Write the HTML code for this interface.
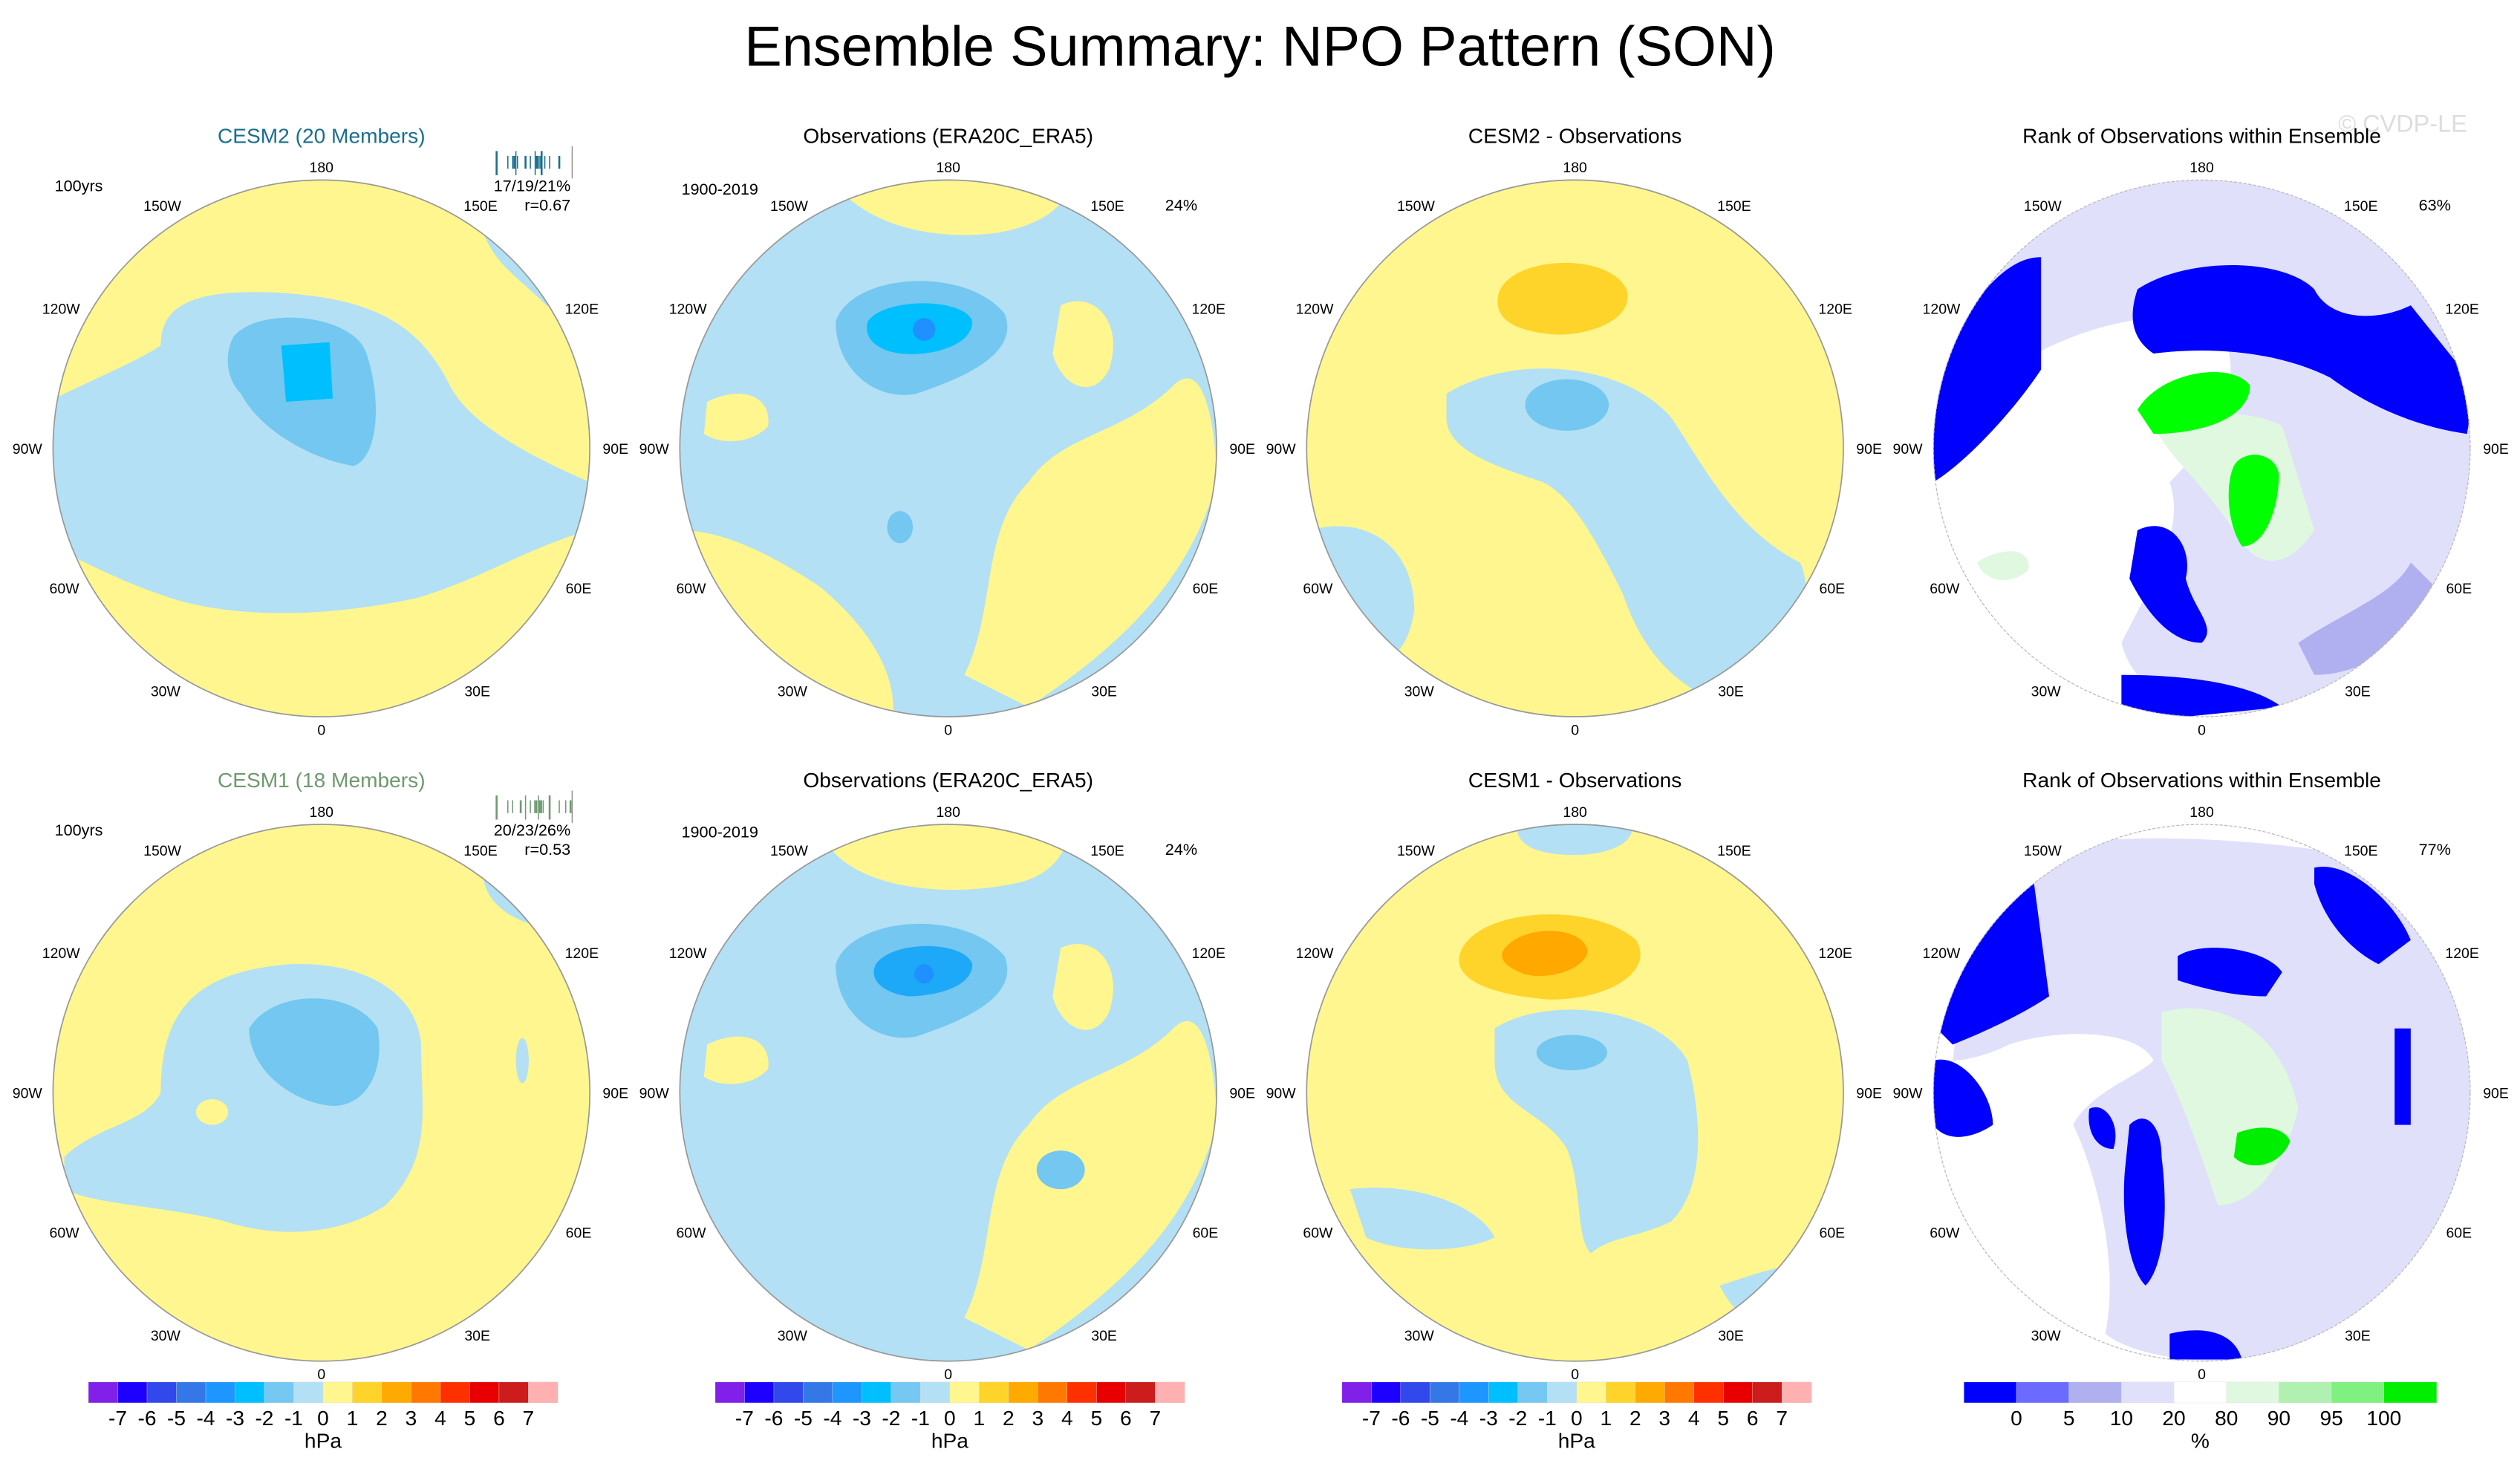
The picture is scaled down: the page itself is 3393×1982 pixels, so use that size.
<!DOCTYPE html>
<html><head><meta charset="utf-8"><style>
html,body{margin:0;padding:0;background:#fff}
svg{display:block}
text{font-family:"Liberation Sans",sans-serif}
</style></head><body>
<svg id="fig" width="3393" height="1982" viewBox="0 0 1568 916" preserveAspectRatio="none" xmlns="http://www.w3.org/2000/svg">
<defs>
<clipPath id="c1"><circle cx="200" cy="279" r="167"/></clipPath>
<clipPath id="c2"><circle cx="590" cy="279" r="167"/></clipPath>
<clipPath id="c3"><circle cx="980" cy="279" r="167"/></clipPath>
<clipPath id="c4"><circle cx="1370" cy="279" r="167"/></clipPath>
<clipPath id="c5"><circle cx="200" cy="680" r="167"/></clipPath>
<clipPath id="c6"><circle cx="590" cy="680" r="167"/></clipPath>
<clipPath id="c7"><circle cx="980" cy="680" r="167"/></clipPath>
<clipPath id="c8"><circle cx="1370" cy="680" r="167"/></clipPath>
</defs>
<text x="784" y="41" font-size="35" text-anchor="middle">Ensemble Summary: NPO Pattern (SON)</text>
<text x="1495" y="82" font-size="15" fill="#ddd" text-anchor="middle">© CVDP-LE</text>

<!-- Panel 1 -->
<g clip-path="url(#c1)">
<rect x="30" y="110" width="340" height="340" fill="#fff68f"/>
<path d="M30,250 C60,235 85,225 100,215 C100,190 120,180 170,182 C230,185 260,200 280,240 C290,260 320,280 367,300 L367,330 C330,340 300,360 260,372 C200,385 140,385 100,370 C70,360 45,345 30,340Z" fill="#b3e0f4"/>
<path d="M340,190 C320,170 300,160 298,130 L350,130 L370,200Z" fill="#b3e0f4"/>
<path d="M145,210 C160,190 220,195 228,220 C238,250 235,285 220,290 C190,285 160,265 150,245 C140,235 140,220 145,210Z" fill="#73c7f0"/>
<path d="M175,215 L205,213 L207,248 L178,250Z" fill="#00bfff"/>
</g>
<circle cx="200" cy="279" r="167" fill="none" stroke="#999" stroke-width="0.8"/>

<!-- Panel 2 -->
<g clip-path="url(#c2)">
<rect x="420" y="110" width="340" height="340" fill="#b3e0f4"/>
<path d="M520,115 C540,140 580,150 620,145 C650,140 670,125 660,110Z" fill="#fff68f"/>
<path d="M423,330 C450,330 480,345 510,365 C540,390 560,420 555,450 L420,450Z" fill="#fff68f"/>
<path d="M440,250 C460,240 480,245 478,265 C470,275 450,278 438,270Z" fill="#fff68f"/>
<path d="M600,420 C620,380 610,330 640,300 C660,270 700,270 730,240 C750,220 757,270 757,300 C740,360 700,400 640,440Z" fill="#fff68f"/>
<path d="M660,190 C680,180 700,200 690,230 C680,250 660,240 655,220Z" fill="#fff68f"/>
<path d="M520,200 C530,170 600,165 625,195 C635,220 600,235 570,245 C545,250 520,230 520,200Z" fill="#73c7f0"/>
<path d="M540,200 C550,185 600,185 605,200 C605,215 580,222 560,220 C545,218 537,210 540,200Z" fill="#00bfff"/>
<circle cx="575" cy="205" r="7" fill="#1e90ff"/>
<ellipse cx="560" cy="328" rx="8" ry="10" fill="#73c7f0"/>
</g>
<circle cx="590" cy="279" r="167" fill="none" stroke="#999" stroke-width="0.8"/>

<!-- Panel 3 -->
<g clip-path="url(#c3)">
<rect x="810" y="110" width="340" height="340" fill="#fff68f"/>
<path d="M900,245 C940,220 1010,225 1040,260 C1060,290 1080,330 1120,350 C1130,370 1120,420 1080,440 C1040,430 1020,400 1010,370 C995,340 980,310 960,300 C930,290 900,280 900,260Z" fill="#b3e0f4"/>
<path d="M815,330 C850,320 880,340 880,380 C875,410 860,420 835,400Z" fill="#b3e0f4"/>
<path d="M932,185 C935,160 1000,155 1012,180 C1018,200 985,210 965,208 C945,206 930,200 932,185Z" fill="#ffd42a"/>
<ellipse cx="975" cy="252" rx="26" ry="16" fill="#73c7f0"/>
</g>
<circle cx="980" cy="279" r="167" fill="none" stroke="#999" stroke-width="0.8"/>

<!-- Panel 4 -->
<g clip-path="url(#c4)">
<rect x="1200" y="110" width="340" height="340" fill="#fff"/>
<path d="M1200,110 L1540,110 L1540,330 C1520,400 1470,430 1420,440 C1380,450 1330,440 1320,400 C1340,360 1360,330 1350,300 C1380,270 1400,240 1380,200 C1330,190 1280,210 1250,230 L1200,230Z" fill="#e0e0fb"/>
<path d="M1203,230 C1230,180 1250,160 1270,160 L1270,230 C1250,260 1220,290 1203,300Z" fill="#0000ff"/>
<path d="M1330,180 C1360,160 1420,160 1440,180 C1450,200 1480,200 1500,190 L1540,240 L1535,270 C1500,265 1470,250 1450,235 C1420,220 1380,215 1340,220 C1325,210 1325,195 1330,180Z" fill="#0000ff"/>
<path d="M1330,330 C1350,320 1365,340 1360,360 C1365,380 1380,390 1370,400 C1350,400 1335,380 1325,360Z" fill="#0000ff"/>
<path d="M1320,420 C1360,420 1400,425 1420,440 L1320,450Z" fill="#0000ff"/>
<path d="M1340,265 C1370,255 1400,255 1420,265 L1440,330 C1420,360 1400,350 1390,330 C1370,300 1350,285 1340,265Z" fill="#e0f8e0"/>
<path d="M1330,255 C1345,230 1390,225 1400,240 C1400,260 1370,270 1340,270Z" fill="#00ff00"/>
<path d="M1390,290 C1395,280 1415,280 1418,295 C1418,315 1410,340 1395,340 C1385,325 1385,300 1390,290Z" fill="#00ff00"/>
<path d="M1230,350 C1245,340 1265,340 1262,355 C1250,365 1235,362 1230,350Z" fill="#e0f8e0"/>
<path d="M1430,400 C1460,380 1490,370 1500,350 L1520,370 C1500,400 1470,420 1440,420Z" fill="#b0b0f0"/>
</g>
<circle cx="1370" cy="279" r="167" fill="none" stroke="#bbb" stroke-width="0.6" stroke-dasharray="2,1"/>

<!-- Panel 5 -->
<g clip-path="url(#c5)">
<rect x="30" y="510" width="340" height="340" fill="#fff68f"/>
<path d="M40,720 C60,700 90,700 100,680 C100,630 120,605 180,600 C230,598 260,620 262,650 C262,690 270,720 240,750 C210,770 170,770 140,760 C100,750 60,750 40,740Z" fill="#b3e0f4"/>
<path d="M300,540 C300,560 315,570 330,575 L330,540Z" fill="#b3e0f4"/>
<path d="M155,640 C170,615 220,615 235,640 C240,670 225,690 205,688 C180,685 155,665 155,640Z" fill="#73c7f0"/>
<ellipse cx="132" cy="692" rx="10" ry="8" fill="#fff68f"/>
<ellipse cx="325" cy="660" rx="4" ry="14" fill="#b3e0f4"/>
</g>
<circle cx="200" cy="680" r="167" fill="none" stroke="#999" stroke-width="0.8"/>

<!-- Panel 6 -->
<g clip-path="url(#c6)">
<rect x="420" y="510" width="340" height="340" fill="#b3e0f4"/>
<path d="M510,515 C520,550 580,560 630,550 C660,545 670,520 660,510Z" fill="#fff68f"/>
<path d="M440,650 C460,640 480,645 478,665 C470,675 450,678 438,670Z" fill="#fff68f"/>
<path d="M600,820 C620,780 610,730 640,700 C660,670 700,670 730,640 C750,620 757,670 757,700 C740,760 700,800 640,840Z" fill="#fff68f"/>
<path d="M660,590 C680,580 700,600 690,630 C680,650 660,640 655,620Z" fill="#fff68f"/>
<path d="M520,600 C530,570 600,565 625,595 C635,620 600,635 570,645 C545,650 520,630 520,600Z" fill="#73c7f0"/>
<path d="M545,600 C555,585 600,585 605,600 C605,615 580,620 565,620 C550,618 540,610 545,600Z" fill="#1ea8f8"/>
<circle cx="575" cy="606" r="6" fill="#1e90ff"/>
<ellipse cx="660" cy="728" rx="15" ry="12" fill="#73c7f0"/>
</g>
<circle cx="590" cy="680" r="167" fill="none" stroke="#999" stroke-width="0.8"/>

<!-- Panel 7 -->
<g clip-path="url(#c7)">
<rect x="810" y="510" width="340" height="340" fill="#fff68f"/>
<path d="M945,510 L1015,510 C1020,525 1000,532 980,532 C955,532 940,525 945,510Z" fill="#b3e0f4"/>
<path d="M930,640 C960,620 1030,625 1050,660 C1060,700 1060,740 1040,760 C1020,770 1000,770 990,780 C980,770 985,740 975,715 C960,690 930,690 930,660Z" fill="#b3e0f4"/>
<path d="M840,740 C880,735 920,750 930,770 C910,780 870,780 850,770Z" fill="#b3e0f4"/>
<path d="M1070,800 C1100,790 1130,780 1140,790 L1120,830 C1100,835 1080,820 1070,800Z" fill="#b3e0f4"/>
<path d="M908,595 C915,565 990,560 1018,585 C1030,605 1000,622 965,622 C935,620 905,612 908,595Z" fill="#ffd42a"/>
<path d="M935,592 C945,575 985,575 988,592 C985,605 960,610 948,606 C938,602 933,598 935,592Z" fill="#ffa900"/>
<ellipse cx="978" cy="655" rx="22" ry="11" fill="#73c7f0"/>
</g>
<circle cx="980" cy="680" r="167" fill="none" stroke="#999" stroke-width="0.8"/>

<!-- Panel 8 -->
<g clip-path="url(#c8)">
<rect x="1200" y="510" width="340" height="340" fill="#fff"/>
<path d="M1240,530 C1300,520 1370,518 1450,530 C1520,560 1545,640 1540,710 C1520,790 1470,830 1420,846 C1380,850 1330,846 1310,830 C1320,780 1300,720 1290,700 C1300,680 1330,670 1340,660 C1330,640 1280,640 1250,650 C1230,660 1215,660 1215,660 C1220,620 1230,580 1240,530Z" fill="#e0e0fb"/>
<path d="M1205,640 C1215,600 1240,560 1265,545 L1275,620 C1260,630 1240,640 1215,650Z" fill="#0000ff"/>
<path d="M1203,660 C1220,655 1240,680 1240,700 C1225,710 1210,710 1203,700Z" fill="#0000ff"/>
<path d="M1355,595 C1370,585 1410,590 1420,605 L1410,620 C1390,620 1370,615 1355,610Z" fill="#0000ff"/>
<path d="M1440,540 C1460,535 1490,560 1500,585 L1480,600 C1460,590 1445,570 1440,550Z" fill="#0000ff"/>
<path d="M1325,700 C1335,690 1345,700 1345,720 C1350,760 1345,790 1335,800 C1325,790 1320,760 1322,730Z" fill="#0000ff"/>
<path d="M1300,690 C1310,685 1320,700 1315,715 C1305,715 1298,705 1300,690Z" fill="#0000ff"/>
<path d="M1350,830 C1370,825 1390,828 1395,846 L1350,846Z" fill="#0000ff"/>
<path d="M1345,630 C1380,620 1420,640 1430,690 C1420,730 1400,750 1380,750 C1370,720 1360,690 1345,660Z" fill="#e0f8e0"/>
<path d="M1392,705 C1405,700 1420,700 1425,710 C1420,725 1400,730 1390,720Z" fill="#00ee00"/>
<path d="M1490,640 L1500,640 L1500,700 L1490,700Z" fill="#0000ff"/>
</g>
<circle cx="1370" cy="680" r="167" fill="none" stroke="#bbb" stroke-width="0.6" stroke-dasharray="2,1"/>

<g id="annot"></g>
<g id="bars"></g>
</svg>
<script>
const NS="http://www.w3.org/2000/svg";
const hpaColors=["#8020e8","#1e00ff","#3048ec","#3478e8","#1e96ff","#00bfff","#74c8f2","#b3e0f4","#fff68f","#ffd42a","#ffaa00","#ff7800","#ff3000","#e80000","#cc1c1c","#ffb0b0"];
const hpaTicks=["-7","-6","-5","-4","-3","-2","-1","0","1","2","3","4","5","6","7"];
const rankColors=["#0000ff","#6b6bff","#b0b0f0","#e0e0fb","#ffffff","#e0f8e0","#b0f0b0","#80f080","#00ee00"];
const rankTicks=["0","5","10","20","80","90","95","100"];
const panelTitles=["CESM2 (20 Members)","Observations (ERA20C_ERA5)","CESM2 - Observations","Rank of Observations within Ensemble","CESM1 (18 Members)","Observations (ERA20C_ERA5)","CESM1 - Observations","Rank of Observations within Ensemble"];
const lonLabels=["180","150E","120E","90E","60E","30E","0","30W","60W","90W","120W","150W"];
const lonDx=[0,99,162,183,160,97,0,-97,-160,-183,-162,-99];
const lonDy=[-175,-151,-87,0,87,151,175,151,87,0,-87,-151];
function mk(tag,attrs,parent,txt){const e=document.createElementNS(NS,tag);for(const k in attrs)e.setAttribute(k,attrs[k]);if(txt!==undefined)e.textContent=txt;parent.appendChild(e);return e;}
const ann=document.getElementById('annot');
const cxs=[200,590,980,1370], cys=[279,680];
for(let r=0;r<2;r++)for(let c=0;c<4;c++){
  const cx=cxs[c],cy=cys[r],i=r*4+c;
  const col=i===0?"#1a6e8e":(i===4?"#6e9a6e":"#000");
  const t=mk('text',{x:cx,y:cy-190,'font-size':13,'text-anchor':'middle',fill:col},ann,panelTitles[i]);
  
  
  lonLabels.forEach((lab,k)=>{
    const e=mk('text',{x:cx+lonDx[k],y:cy+lonDy[k]+3.3,'font-size':9,'text-anchor':'middle'},ann,lab);
    
    
  });
}
function lab(x,y,s,txt,anchor){const e=mk('text',{x:x,y:y,'font-size':s,'text-anchor':anchor||'start'},ann,txt);

}
lab(34,119,10,"100yrs");lab(34,520,10,"100yrs");
lab(424,121,10,"1900-2019");lab(424,521,10,"1900-2019");
lab(745,131,10,"24%","end");lab(745,532,10,"24%","end");
lab(1525,131,10,"63%","end");lab(1525,532,10,"77%","end");
lab(355,119,10,"17/19/21%","end");lab(355,131,10,"r=0.67","end");
lab(355,520,10,"20/23/26%","end");lab(355,532,10,"r=0.53","end");
const bc1=[309,316,319,320,321,322,327,330,333,334,335,336,337,339,342,348];
const bc2=[309,316,319,324,327,330,333,334,335,336,337,338,342,348,352,355];
[[bc1,"#1a6e8e",97],[bc2,"#6e9a6e",498]].forEach(([arr,color,y0])=>{
  arr.forEach((x,k)=>{const l=mk('line',{x1:x,x2:x,y1:y0+(k%4===0?-3:0),y2:y0+(k%4===0?12:8),stroke:color,'stroke-width':k%3===0?1.2:0.7},ann);
  
  });
  const m=mk('line',{x1:356,x2:356,y1:y0-6,y2:y0+14,stroke:"#888",'stroke-width':0.6},ann);
  
  
});
const bars=document.getElementById('bars');
function colorbar(x0,x1,colors,ticks,unit){
  const w=(x1-x0)/colors.length;
  colors.forEach((c,k)=>{const rc=mk('rect',{x:x0+k*w,y:860,width:w+0.2,height:13,fill:c,stroke:'#ddd','stroke-width':0.2},bars);
  
  });
  ticks.forEach((t,k)=>{const e=mk('text',{x:x0+(k+1)*w,y:887,'font-size':13,'text-anchor':'middle'},bars,t);
  
  });
  const u=mk('text',{x:(x0+x1)/2,y:901,'font-size':13,'text-anchor':'middle'},bars,unit);
  
  
}
colorbar(55,347,hpaColors,hpaTicks,"hPa");
colorbar(445,737,hpaColors,hpaTicks,"hPa");
colorbar(835,1127,hpaColors,hpaTicks,"hPa");
colorbar(1222,1516,rankColors,rankTicks,"%");
</script>
</body></html>
